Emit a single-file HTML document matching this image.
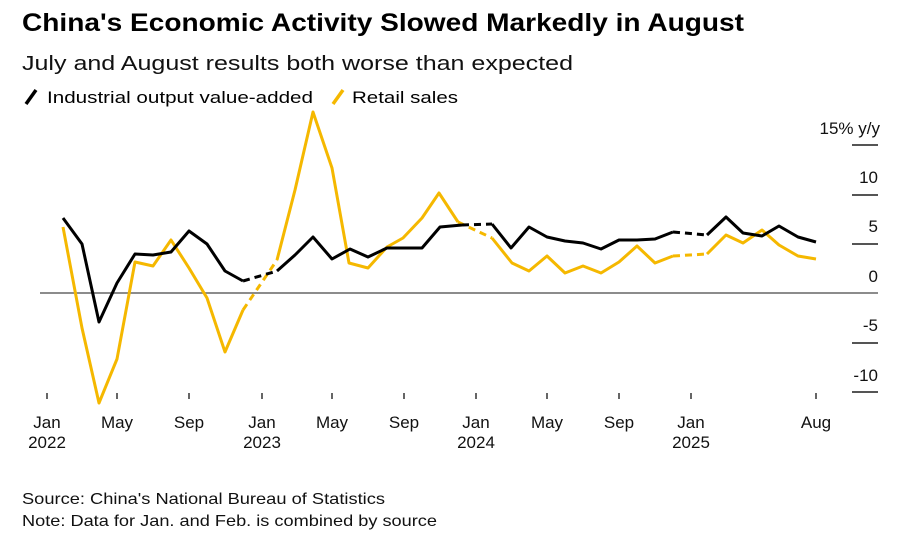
<!DOCTYPE html>
<html><head><meta charset="utf-8"><style>
body{margin:0;background:#fff;width:903px;height:536px;overflow:hidden;font-family:"Liberation Sans",Arial,sans-serif}
</style></head><body>
<svg width="903" height="536" xmlns="http://www.w3.org/2000/svg" font-family="Liberation Sans, Arial, sans-serif">
<text x="22" y="31" font-size="25" font-weight="bold" fill="#000" textLength="722" lengthAdjust="spacingAndGlyphs">China's Economic Activity Slowed Markedly in August</text>
<text x="22" y="70" font-size="20" fill="#111" textLength="551" lengthAdjust="spacingAndGlyphs">July and August results both worse than expected</text>
<line x1="26" y1="104" x2="36" y2="90" stroke="#000" stroke-width="3.5"/>
<text x="47" y="103" font-size="17" fill="#000" textLength="266" lengthAdjust="spacingAndGlyphs">Industrial output value-added</text>
<line x1="333" y1="104" x2="343" y2="90" stroke="#f5b800" stroke-width="3.5"/>
<text x="352" y="103" font-size="17" fill="#000" textLength="106" lengthAdjust="spacingAndGlyphs">Retail sales</text>
<g stroke="#555" stroke-width="2">
<line x1="852" y1="145" x2="878" y2="145"/><line x1="852" y1="195" x2="878" y2="195"/>
<line x1="852" y1="244" x2="878" y2="244"/><line x1="852" y1="343" x2="878" y2="343"/>
<line x1="852" y1="392" x2="878" y2="392"/>
</g>
<line x1="40" y1="293" x2="878" y2="293" stroke="#666" stroke-width="1.5"/>
<g font-size="17" fill="#111" text-anchor="end">
<text x="880" y="134">15% y/y</text><text x="878" y="183">10</text><text x="878" y="232">5</text>
<text x="878" y="282">0</text><text x="878" y="331">-5</text><text x="878" y="381">-10</text>
</g>
<g stroke="#333" stroke-width="1.5">
<line x1="47" y1="393" x2="47" y2="399"/><line x1="117" y1="393" x2="117" y2="399"/><line x1="189" y1="393" x2="189" y2="399"/>
<line x1="262" y1="393" x2="262" y2="399"/><line x1="332" y1="393" x2="332" y2="399"/><line x1="404" y1="393" x2="404" y2="399"/>
<line x1="476" y1="393" x2="476" y2="399"/><line x1="547" y1="393" x2="547" y2="399"/><line x1="619" y1="393" x2="619" y2="399"/>
<line x1="691" y1="393" x2="691" y2="399"/><line x1="816" y1="393" x2="816" y2="399"/>
</g>
<g font-size="17" fill="#111" text-anchor="middle">
<text x="47" y="428">Jan</text><text x="47" y="448">2022</text>
<text x="117" y="428">May</text><text x="189" y="428">Sep</text>
<text x="262" y="428">Jan</text><text x="262" y="448">2023</text>
<text x="332" y="428">May</text><text x="404" y="428">Sep</text>
<text x="476" y="428">Jan</text><text x="476" y="448">2024</text>
<text x="547" y="428">May</text><text x="619" y="428">Sep</text>
<text x="691" y="428">Jan</text><text x="691" y="448">2025</text>
<text x="816" y="428">Aug</text>
</g>
<g fill="none" stroke="#f5b800" stroke-width="3" stroke-linejoin="round">
<polyline points="63,227 82,328 99,403 117,359 135,262 153,266 171,240 189,268 207,298 225,352 243,310"/>
<polyline points="243,310 277,260" stroke-dasharray="7,5"/>
<polyline points="277,260 295,190 313,112 332,168 349,263 368,268 387,247 403,238 422,218 439,193 458,222"/>
<polyline points="458,222 492,238" stroke-dasharray="7,5"/>
<polyline points="492,238 512,263 529,271 547,256 565,273 583,266 601,273 619,262 637,246 655,263 673,256"/>
<polyline points="673,256 707,254" stroke-dasharray="7,5"/>
<polyline points="707,254 726,235 743,243 762,230 779,245 798,256 816,259"/>
</g>
<g fill="none" stroke="#000" stroke-width="3" stroke-linejoin="round">
<polyline points="63,218 82,244 99,322 117,283 135,254 153,255 171,252 189,231 207,244 225,271 243,281"/>
<polyline points="243,281 277,271" stroke-dasharray="7,5"/>
<polyline points="277,271 295,255 313,237 332,259 350,249 368,257 387,248 403,248 422,248 440,227 462,225"/>
<polyline points="462,225 492,224" stroke-dasharray="7,5"/>
<polyline points="492,224 511,248 529,227 547,237 565,241 583,243 601,249 619,240 637,240 655,239 673,232"/>
<polyline points="673,232 707,235" stroke-dasharray="7,5"/>
<polyline points="707,235 726,217 743,233 762,236 779,226 798,237 816,242"/>
</g>
<text x="22" y="504" font-size="16" fill="#111" textLength="363" lengthAdjust="spacingAndGlyphs">Source: China's National Bureau of Statistics</text>
<text x="22" y="526" font-size="16" fill="#111" textLength="415" lengthAdjust="spacingAndGlyphs">Note: Data for Jan. and Feb. is combined by source</text>
</svg>
</body></html>
